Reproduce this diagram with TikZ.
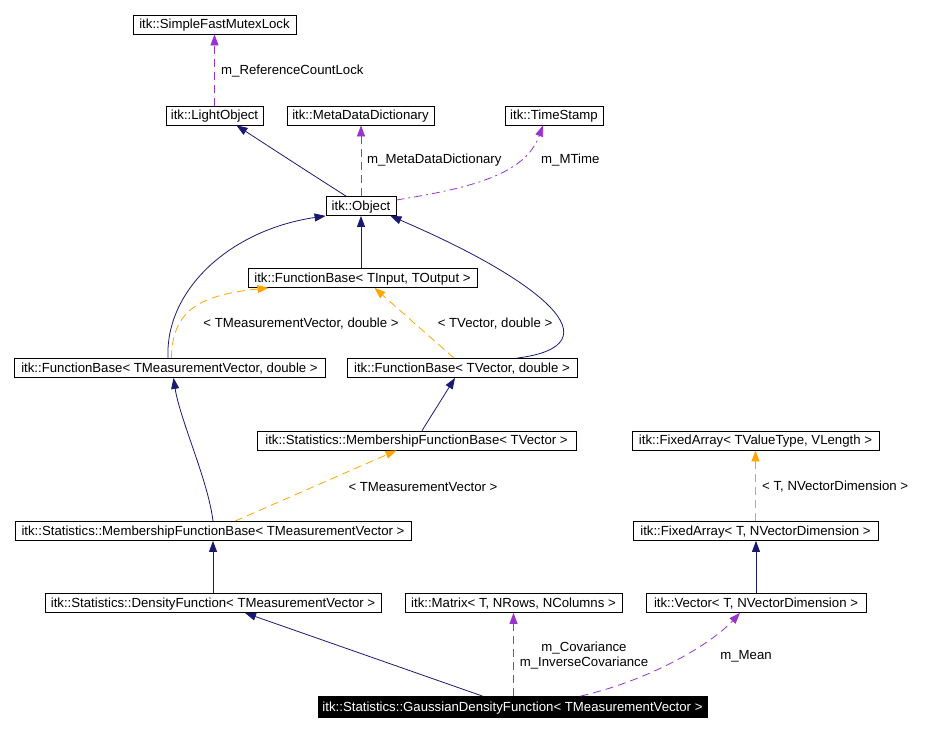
\documentclass[tikz,border=0pt]{standalone}
\usepackage{fontspec}
\setmainfont{Liberation Sans}
\usepackage{xcolor}
\usetikzlibrary{arrows.meta}
\definecolor{inhblue}{HTML}{191970}
\definecolor{tplorange}{HTML}{FFA500}
\definecolor{usepurple}{HTML}{9A32CD}
\tikzset{
    cls/.style={draw=black,line width=0.8pt,minimum height=19pt,inner sep=0pt,
        text height=10pt,text depth=2pt,font=\fontsize{13.2}{15}\selectfont},
    cur/.style={cls,fill=black,text=white,minimum height=21pt},
    lbl/.style={inner sep=0pt,font=\fontsize{13.2}{15}\selectfont},
    inh/.style={draw=inhblue,line width=0.8pt,-{Triangle[length=11pt,width=8pt]}},
    tpl/.style={draw=tplorange,line width=0.8pt,dash pattern=on 8pt off 5pt,
        -{Triangle[length=11pt,width=8pt]}},
    usage/.style={draw=usepurple,line width=0.8pt,dash pattern=on 8pt off 5pt,
        -{Triangle[length=11pt,width=8pt]}}
}
\begin{document}
\begin{tikzpicture}[x=1pt,y=-1pt]
                \useasboundingbox (0,0) rectangle (929,731);
                \node[cls,minimum width=163pt] (lock) at (214.5,24.5) {itk::SimpleFastMutexLock};
                \node[cls,minimum width=97pt] (light) at (214.5,115.5) {itk::LightObject};
                \node[cls,minimum width=147pt] (meta) at (360.5,115.5) {itk::MetaDataDictionary};
                \node[cls,minimum width=98pt] (stamp) at (554,115.5) {itk::TimeStamp};
                \node[cls,minimum width=70pt] (obj) at (361,206) {itk::Object};
                \node[cls,minimum width=229pt] (fbio) at (362.5,278) {itk::FunctionBase< TInput, TOutput >};
                \node[cls,minimum width=311pt] (fbmv) at (169.5,368) {itk::FunctionBase< TMeasurementVector, double >};
                \node[cls,minimum width=230pt] (fbv) at (462,368) {itk::FunctionBase< TVector, double >};
                \node[cls,minimum width=319pt] (mfbv) at (416.5,440.5) {itk::Statistics::MembershipFunctionBase< TVector >};
                \node[cls,minimum width=247pt] (fava) at (755.5,440.5) {itk::FixedArray< TValueType, VLength >};
                \node[cls,minimum width=396pt] (mfbmv) at (213,531) {itk::Statistics::MembershipFunctionBase< TMeasurementVector >};
                \node[cls,minimum width=245pt] (fatn) at (755.5,531) {itk::FixedArray< T, NVectorDimension >};
                \node[cls,minimum width=336pt] (dens) at (213,603) {itk::Statistics::DensityFunction< TMeasurementVector >};
                \node[cls,minimum width=217pt] (mat) at (513.5,603) {itk::Matrix< T, NRows, NColumns >};
                \node[cls,minimum width=220pt] (vec) at (756,603) {itk::Vector< T, NVectorDimension >};
                \node[cur,minimum width=389pt] (gauss) at (512.5,707) {itk::Statistics::GaussianDensityFunction< TMeasurementVector >};

                \draw[usage] (light.north) -- (lock.south);
                \node[lbl,anchor=west] (reflock) at (221,71) {m\_ReferenceCountLock};
                \draw[inh] ([xshift=-15pt]obj.north) .. controls (305,170) and (262,142) .. ([xshift=22pt]light.south);
                \draw[usage] (obj.north) -- (obj.north |- meta.south);
                \node[lbl,anchor=west] (metalbl) at (367,160) {m\_MetaDataDictionary};
                \draw[usage,dash pattern=on 8pt off 4pt on 2pt off 4pt] ([yshift=6pt]obj.east) .. controls (470,188) and (525,175) .. ([xshift=-11pt]stamp.south);
                \node[lbl,anchor=west] (mtime) at (541,160) {m\_MTime};
                \draw[inh] (obj.south |- fbio.north) -- (obj.south);
                \draw[inh] ([xshift=-1.5pt]fbmv.north) .. controls (165,290) and (230,230) .. (obj.south west);
                \draw[inh] ([xshift=55pt]fbv.north) .. controls (620,345) and (540,280) .. ([xshift=-6pt]obj.south east);
                \draw[tpl] ([xshift=2pt]fbmv.north) .. controls (172,310) and (200,295) .. ([xshift=-94pt]fbio.south);
                \node[lbl] (mvdbl) at (301,324) {< TMeasurementVector, double >};
                \draw[tpl] ([xshift=-8pt]fbv.north) -- ([xshift=12pt]fbio.south);
                \node[lbl] (vdbl) at (495,324) {< TVector, double >};
                \draw[inh] ([xshift=5.5pt]mfbv.north) -- ([xshift=-7pt]fbv.south);
                \draw[inh] (mfbmv.north) .. controls (208,480) and (180,420) .. ([xshift=4pt]fbmv.south);
                \draw[tpl] ([xshift=22pt]mfbmv.north) -- ([xshift=-20pt]mfbv.south);
                \node[lbl] (mvlbl) at (423,487) {< TMeasurementVector >};
                \draw[tpl] (fatn.north) -- (fava.south);
                \node[lbl,anchor=west] (tndim) at (762,487) {< T, NVectorDimension >};
                \draw[inh] (vec.north) -- (vec.north |- fatn.south);
                \draw[inh] (dens.north) -- (mfbmv.south);
                \draw[inh] ([xshift=-30pt]gauss.north) -- ([xshift=32pt]dens.south);
                \draw[usage] (gauss.north -| mat.south) -- (mat.south);
                \node[lbl,align=center] (covlbl) at (584,656) {m\_Covariance\\m\_InverseCovariance};
                \draw[usage] ([xshift=68pt]gauss.north) .. controls (650,680) and (710,645) .. ([xshift=-16pt]vec.south);
                \node[lbl] (meanlbl) at (746,656) {m\_Mean};
            \end{tikzpicture}
\end{document}
